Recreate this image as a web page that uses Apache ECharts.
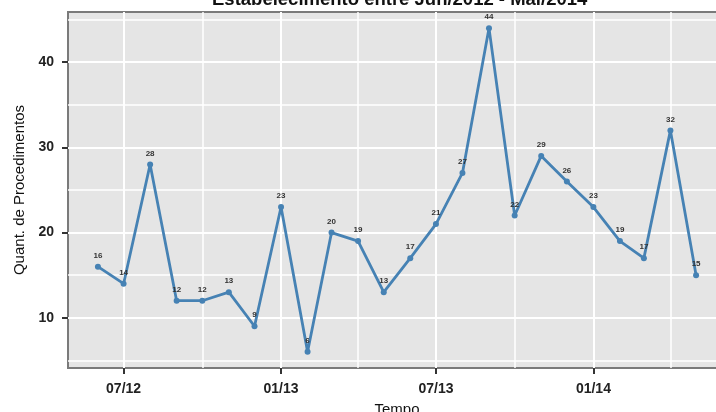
<!DOCTYPE html>
<html>
<head>
<meta charset="utf-8">
<script src="https://cdn.jsdelivr.net/npm/echarts@6/dist/echarts.min.js"></script>
<style>html,body{margin:0;padding:0;background:#fff;overflow:hidden;width:716px;height:412px;}#c{width:726px;height:412px;}</style>
</head>
<body>
<div id="c"></div>
<script>
const months = ['2012-06-01','2012-07-01','2012-08-01','2012-09-01','2012-10-01','2012-11-01','2012-12-01',
  '2013-01-01','2013-02-01','2013-03-01','2013-04-01','2013-05-01','2013-06-01','2013-07-01','2013-08-01',
  '2013-09-01','2013-10-01','2013-11-01','2013-12-01','2014-01-01','2014-02-01','2014-03-01','2014-04-01','2014-05-01'];
const counts = [16,14,28,12,12,13,9,23,6,20,19,13,17,21,27,44,22,29,26,23,19,17,32,15];
const majorTicks = ['2012-07-01','2013-01-01','2013-07-01','2014-01-01'];
const minorTicks = ['2012-10-01','2013-04-01','2013-10-01','2014-04-01'];
const yMajor = [10,20,30,40];
const yMinor = [5,15,25,35,45];
const titleText = 'Estabelecimento entre Jun/2012 - Mai/2014';
const xName = 'Tempo';
const yName = 'Quant. de Procedimentos';

function ts(s){ const p = s.split('-').map(Number); return Date.UTC(p[0], p[1]-1, p[2]); }
const span = ts(months[months.length-1]) - ts(months[0]);
const xMin = ts(months[0]) - span*0.05;
const xMax = ts(months[months.length-1]) + span*0.05;

const chart = echarts.init(document.getElementById('c'));
const font = 'Liberation Sans, Arial, sans-serif';
const xBase = {type:'value', min:xMin, max:xMax};
chart.setOption({
  backgroundColor:'#ffffff',
  animation:false,
  title:{text:titleText, left:207, top:-15,
    textStyle:{fontFamily:font, fontSize:18.5, fontWeight:'bold', color:'#111'}},
  grid:{left:68, right:0, top:12, bottom:44, show:true, backgroundColor:'#E5E5E5',
    borderColor:'#7a7a7a', borderWidth:2, containLabel:false, outerBoundsMode:'none'},
  xAxis:[
    Object.assign({}, xBase, {
      name:xName, nameLocation:'middle', nameGap:34,
      nameTextStyle:{fontFamily:font, fontSize:15, color:'#111'},
      axisLine:{show:false},
      axisTick:{show:true, length:6, lineStyle:{color:'#333', width:2}, customValues: majorTicks.map(ts)},
      axisLabel:{show:true, margin:14, fontFamily:font, fontSize:14, fontWeight:'bold', color:'#222',
        customValues: majorTicks.map(ts),
        formatter:function(v){ const d=new Date(v); const m=d.getUTCMonth()+1; return (m<10?'0':'')+m+'/'+String(d.getUTCFullYear()).slice(2); }},
      splitLine:{show:true, lineStyle:{color:'#ffffff', width:2}}
    }),
    Object.assign({}, xBase, {
      axisLine:{show:false}, axisLabel:{show:false},
      axisTick:{show:false, customValues: minorTicks.map(ts)},
      splitLine:{show:true, lineStyle:{color:'#ffffff', width:1.5}}
    })
  ],
  yAxis:[
    {type:'value', min:4.1, max:45.9,
      name:yName, nameLocation:'middle', nameGap:37, nameRotate:90,
      nameTextStyle:{fontFamily:font, fontSize:15, color:'#111'},
      axisLine:{show:false},
      axisTick:{show:true, length:6, lineStyle:{color:'#333', width:2}, customValues:yMajor},
      axisLabel:{show:true, margin:14, fontFamily:font, fontSize:14, fontWeight:'bold', color:'#222', customValues:yMajor},
      splitLine:{show:true, lineStyle:{color:'#ffffff', width:2}}
    },
    {type:'value', min:4.1, max:45.9,
      axisLine:{show:false}, axisLabel:{show:false},
      axisTick:{show:false, customValues:yMinor},
      splitLine:{show:true, lineStyle:{color:'#ffffff', width:1.5}}
    }
  ],
  series:[{
    type:'line', xAxisIndex:0, yAxisIndex:0,
    data: months.map((m,i)=>[ts(m), counts[i]]),
    lineStyle:{color:'#4682B4', width:2.8},
    itemStyle:{color:'#4682B4'},
    symbol:'circle', symbolSize:6, showAllSymbol:true,
    label:{show:true, position:'top', distance:4, fontFamily:font, fontSize:8, fontWeight:'bold', color:'#333',
      formatter:function(p){ return p.value[1]; }}
  }]
});
</script>
</body>
</html>
